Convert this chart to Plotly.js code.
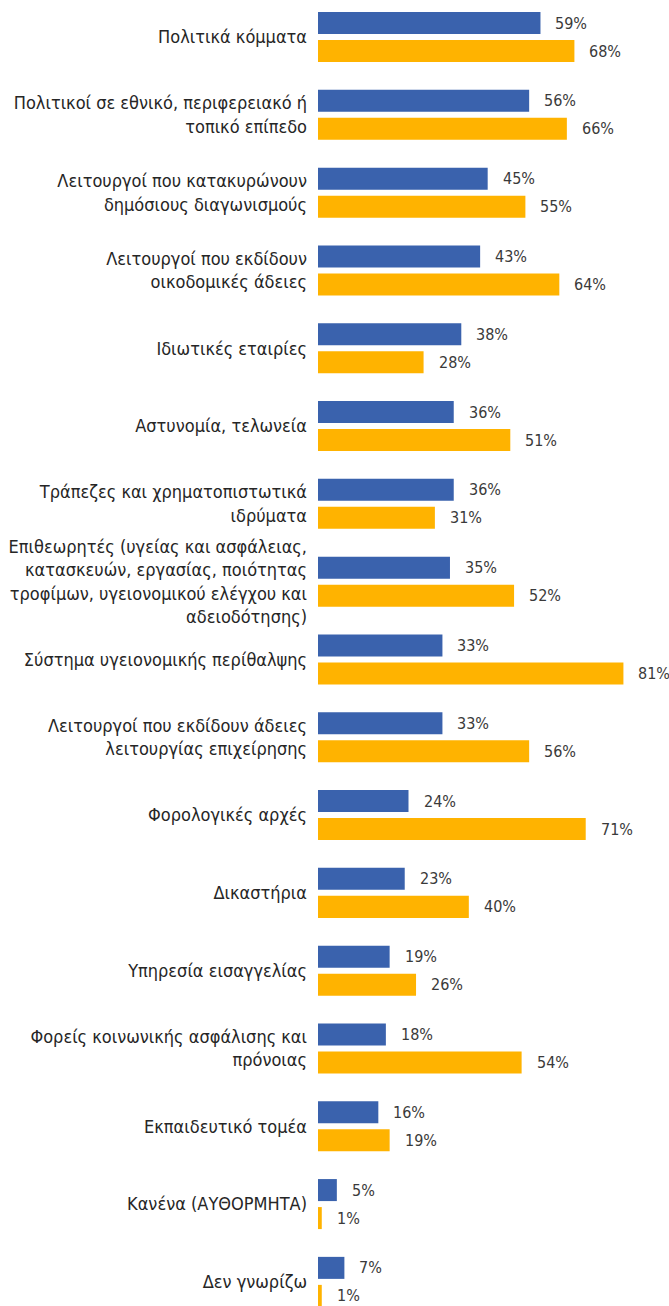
<!DOCTYPE html>
<html>
<head>
<meta charset="utf-8">
<script src="https://cdn.plot.ly/plotly-3.0.1.min.js"></script>
<style>html,body{margin:0;padding:0;background:#fff;}#chart{width:669px;height:1306px;}</style>
</head>
<body>
<div id="chart"></div>
<script>
const categories = [
  "Πολιτικά κόμματα",
  "Πολιτικοί σε εθνικό, περιφερειακό ή<br>τοπικό επίπεδο",
  "Λειτουργοί που κατακυρώνουν<br>δημόσιους διαγωνισμούς",
  "Λειτουργοί που εκδίδουν<br>οικοδομικές άδειες",
  "Ιδιωτικές εταιρίες",
  "Αστυνομία, τελωνεία",
  "Τράπεζες και χρηματοπιστωτικά<br>ιδρύματα",
  "Επιθεωρητές (υγείας και ασφάλειας,<br>κατασκευών, εργασίας, ποιότητας<br>τροφίμων, υγειονομικού ελέγχου και<br>αδειοδότησης)",
  "Σύστημα υγειονομικής περίθαλψης",
  "Λειτουργοί που εκδίδουν άδειες<br>λειτουργίας επιχείρησης",
  "Φορολογικές αρχές",
  "Δικαστήρια",
  "Υπηρεσία εισαγγελίας",
  "Φορείς κοινωνικής ασφάλισης και<br>πρόνοιας",
  "Εκπαιδευτικό τομέα",
  "Κανένα (ΑΥΘΟΡΜΗΤΑ)",
  "Δεν γνωρίζω"
];
const seriesBlue = [59, 56, 45, 43, 38, 36, 36, 35, 33, 33, 24, 23, 19, 18, 16, 5, 7];
const seriesOrange = [68, 66, 55, 64, 28, 51, 31, 52, 81, 56, 71, 40, 26, 54, 19, 1, 1];

const idx = categories.map((_, i) => i);
const FONT = "'Liberation Sans Narrow', 'Arial Narrow', 'DejaVu Sans Condensed', sans-serif";
const BLUE = "#3A62AD";
const ORANGE = "#FFB300";
const OFF = 0.18;

const traces = [
  {type: "bar", orientation: "h", x: seriesBlue, y: idx, marker: {color: BLUE}, hoverinfo: "skip"},
  {type: "bar", orientation: "h", x: seriesOrange, y: idx, marker: {color: ORANGE}, hoverinfo: "skip"}
];

const annotations = [];
seriesBlue.forEach((v, i) => annotations.push({x: v, y: i - OFF, xref: "x", yref: "y", text: v + "%", showarrow: false, xanchor: "left", xshift: 13, font: {family: FONT, size: 16, color: "#3a3a3a"}}));
seriesOrange.forEach((v, i) => annotations.push({x: v, y: i + OFF, xref: "x", yref: "y", text: v + "%", showarrow: false, xanchor: "left", xshift: 13, font: {family: FONT, size: 16, color: "#3a3a3a"}}));

const layout = {
  width: 669, height: 1306,
  margin: {l: 318, r: 9, t: 0, b: 0, pad: 0},
  paper_bgcolor: "#fff", plot_bgcolor: "#fff",
  showlegend: false,
  barmode: "group", bargap: 0.28, bargroupgap: 0.214,
  xaxis: {range: [0, 90.7], visible: false, fixedrange: true},
  yaxis: {
    range: [16.31, -0.476], tickmode: "array", tickvals: idx, ticktext: categories,
    showgrid: false, zeroline: false, showline: false, ticks: "",
    ticklabelstandoff: 10,
    tickfont: {family: FONT, size: 18, color: "#262626"}
  },
  annotations: annotations
};
Plotly.newPlot("chart", traces, layout, {staticPlot: true});
</script>
</body>
</html>
